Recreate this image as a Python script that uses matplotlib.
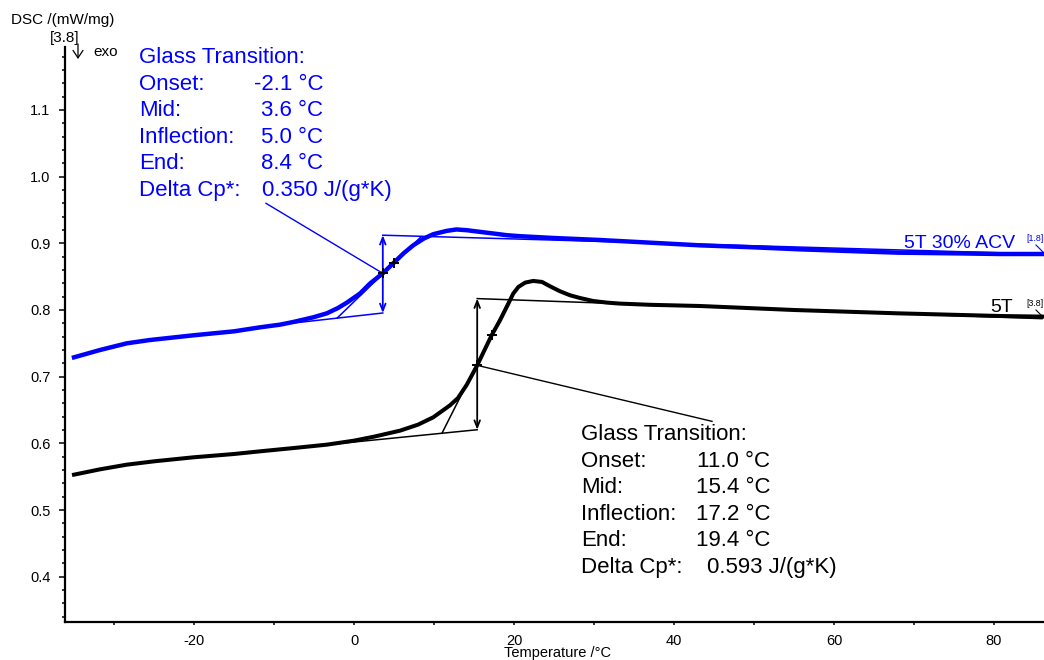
import matplotlib
matplotlib.use('Agg')
import matplotlib.pyplot as plt
from matplotlib.ticker import MultipleLocator, FormatStrFormatter
from matplotlib.lines import Line2D
from matplotlib.patches import FancyArrowPatch

plt.rcParams['font.family'] = ['Liberation Sans', 'DejaVu Sans']
plt.rcParams['axes.unicode_minus'] = False

# ---------------- data ----------------
temp_acv = [-35, -31.75, -28.4, -25.5, -20.1, -15, -11.75, -9.25, -7.6, -5.1,
            -3.4, -2.0, -0.9, 0.75, 2.0, 3.6, 4.9, 6.2, 7.4, 8.7, 9.9, 11.6,
            12.8, 14.1, 15.75, 17.4, 19.1, 20.75, 25, 30.75, 37, 43.25, 50,
            55.75, 63, 68, 75, 80.75, 86.5]
dsc_acv = [0.729, 0.740, 0.750, 0.755, 0.762, 0.768, 0.774, 0.778, 0.782, 0.789,
           0.795, 0.803, 0.811, 0.8247, 0.8397, 0.855, 0.870, 0.885, 0.897, 0.907,
           0.9137, 0.9187, 0.9208, 0.9197, 0.9172, 0.9148, 0.9122, 0.9107, 0.908,
           0.905, 0.901, 0.897, 0.894, 0.891, 0.888, 0.886, 0.885, 0.884, 0.884]

temp_5t = [-35, -31.75, -28.4, -25, -20.1, -15, -11.75, -7.5, -3.4, 0, 2.5,
           5.75, 8, 9.9, 12.0, 13.0, 14.1, 15.4, 16.6, 17.2, 18.25, 19.3, 19.9,
           20.55, 21.4, 22.4, 23.5, 24.5, 25.75, 27.0, 28.25, 29.9, 31.6, 33.25,
           37, 43.25, 55, 68, 80.75, 86.5]
dsc_5t = [0.553, 0.561, 0.568, 0.573, 0.579, 0.584, 0.588, 0.593, 0.598, 0.604,
          0.610, 0.619, 0.628, 0.639, 0.657, 0.668, 0.688, 0.717, 0.747, 0.762,
          0.7845, 0.8096, 0.8246, 0.8346, 0.8411, 0.8436, 0.8421, 0.8356, 0.8281,
          0.8221, 0.818, 0.8135, 0.8111, 0.8096, 0.8078, 0.806, 0.800, 0.795,
          0.791, 0.790]

# glass transition results: onset, mid, inflection, end
acv_tg = [-2.1, 3.6, 5.0, 8.4]
acv_dcp = 0.350
t5_tg = [11.0, 15.4, 17.2, 19.4]
t5_dcp = 0.593

# evaluation construction (baselines / tangent)
acv_low_x, acv_low_y = [-12.0, 3.6], [0.7745, 0.7955]
acv_high_x, acv_high_y = [3.6, 86.0], [0.9122, 0.884]
acv_tan_x, acv_tan_y = [-2.1, 8.4], [0.788, 0.910]
acv_mid_y, acv_infl_y = 0.855, 0.870

t5_low_x, t5_low_y = [-5.0, 15.4], [0.596, 0.6204]
t5_high_x, t5_high_y = [15.4, 86.0], [0.8171, 0.787]
t5_tan_x, t5_tan_y = [11.0, 19.4], [0.6152, 0.8154]
t5_mid_y, t5_infl_y = 0.717, 0.762

x_ticks = [-20, 0, 20, 40, 60, 80]
y_ticks = [0.4, 0.5, 0.6, 0.7, 0.8, 0.9, 1.0, 1.1]

series_names = ["5T 30% ACV", "5T"]
series_tags = ["[1.8]", "[3.8]"]
row_labels = ["Glass Transition:", "Onset:", "Mid:", "Inflection:", "End:", "Delta Cp*:"]

BLUE = (0, 0, 1)
W, H = 1044, 660


def fx(px):
    return px / W


def fy(py):
    return 1 - py / H


fig = plt.figure(figsize=(W / 100, H / 100), dpi=100)
ax = fig.add_axes([fx(65), fy(622), (W - 65) / W, (622 - 47) / H])
ax.set_xlim(-36.125, 86.25)
ax.set_ylim(0.332, 1.1945)

for s in ['top', 'right']:
    ax.spines[s].set_visible(False)
for s in ['left', 'bottom']:
    ax.spines[s].set_linewidth(1.6)

ax.set_xticks(x_ticks)
ax.set_yticks(y_ticks)
ax.xaxis.set_minor_locator(MultipleLocator(10))
ax.yaxis.set_minor_locator(MultipleLocator(0.02))
ax.yaxis.set_major_formatter(FormatStrFormatter('%.1f'))
ax.tick_params(axis='y', which='major', direction='out', length=4.5, width=1.1,
               labelsize=10.5, pad=6)
ax.tick_params(axis='y', which='minor', direction='out', length=2.5, width=1.1)
ax.tick_params(axis='x', which='both', direction='out', length=2.5, width=1.1,
               labelsize=10.5, pad=6)

# curves
ax.plot(temp_acv, dsc_acv, color=BLUE, lw=3.2, solid_joinstyle='round', zorder=3)
ax.plot(temp_5t, dsc_5t, color='black', lw=2.9, solid_joinstyle='round', zorder=3)

# constructions
for col, lo_x, lo_y, hi_x, hi_y, tn_x, tn_y, tg, mid_y, infl_y in [
        (BLUE, acv_low_x, acv_low_y, acv_high_x, acv_high_y, acv_tan_x, acv_tan_y,
         acv_tg, acv_mid_y, acv_infl_y),
        ('black', t5_low_x, t5_low_y, t5_high_x, t5_high_y, t5_tan_x, t5_tan_y,
         t5_tg, t5_mid_y, t5_infl_y)]:
    ax.plot(lo_x, lo_y, color=col, lw=1.1, zorder=2)
    ax.plot(hi_x, hi_y, color=col, lw=1.1, zorder=2)
    ax.plot(tn_x, tn_y, color=col, lw=1.1, zorder=2)
    ax.annotate('', xy=(tg[1], hi_y[0]), xytext=(tg[1], lo_y[1]),
                arrowprops=dict(arrowstyle='<->,head_length=0.5,head_width=0.2',
                                color=col, lw=1.3, shrinkA=0, shrinkB=0,
                                mutation_scale=10), zorder=4)
    ax.plot([tg[1], tg[2]], [mid_y, infl_y], ls='none', marker='+', ms=7,
            mew=1.4, color='black', zorder=5)

# leader lines to text blocks
ax.plot([-11.0, acv_tg[1]], [0.960, acv_mid_y], color=BLUE, lw=1.0, zorder=2)
ax.plot([t5_tg[1], 44.75], [t5_mid_y, 0.633], color='black', lw=1.0, zorder=2)


# annotation text blocks
def block(x_lab, x_val_r, x_dcp, base_y, tg, dcp, col):
    step = 26.6
    fig.text(fx(x_lab), fy(base_y), row_labels[0], color=col, fontsize=16, va='baseline')
    for i in range(4):
        y = base_y + step * (i + 1)
        fig.text(fx(x_lab), fy(y), row_labels[i + 1], color=col, fontsize=16, va='baseline')
        fig.text(fx(x_val_r), fy(y), f"{tg[i]:.1f} °C", color=col, fontsize=16,
                 va='baseline', ha='right')
    y = base_y + step * 5
    fig.text(fx(x_lab), fy(y), row_labels[5], color=col, fontsize=16, va='baseline')
    fig.text(fx(x_dcp), fy(y), f"{dcp:.3f} J/(g*K)", color=col, fontsize=16,
             va='baseline')


block(139, 323, 262, 63, acv_tg, acv_dcp, BLUE)
block(581, 770, 707, 440, t5_tg, t5_dcp, 'black')

# series labels at right
fig.text(fx(1015), fy(248), series_names[0], color=BLUE, fontsize=14, ha='right', va='baseline')
fig.text(fx(1013), fy(312), series_names[1], color='black', fontsize=14, ha='right', va='baseline')
fig.text(fx(1026), fy(241), series_tags[0], color=BLUE, fontsize=6.3, va='baseline')
fig.text(fx(1026), fy(306), series_tags[1], color='black', fontsize=6.3, va='baseline')
fig.add_artist(Line2D([fx(1036), fx(1043)], [fy(245), fy(252)], color=BLUE, lw=0.8))
fig.add_artist(Line2D([fx(1036), fx(1043)], [fy(310), fy(317)], color='black', lw=0.8))

# axis titles
fig.text(fx(11), fy(24), "DSC /(mW/mg)", fontsize=11, va='baseline')
fig.text(fx(50), fy(42), "[3.8]", fontsize=11, va='baseline')
fig.text(fx(93), fy(56), "exo", fontsize=11, va='baseline')
fig.add_artist(FancyArrowPatch(
    (fx(78), fy(44)), (fx(78), fy(59)), transform=fig.transFigure,
    arrowstyle='->,head_length=0.45,head_width=0.3', mutation_scale=12,
    lw=0.9, color='black', shrinkA=0, shrinkB=0))
fig.text(fx(558), fy(657), "Temperature /°C", fontsize=10.5, ha='center', va='baseline')

fig.savefig('out.png', dpi=100)
